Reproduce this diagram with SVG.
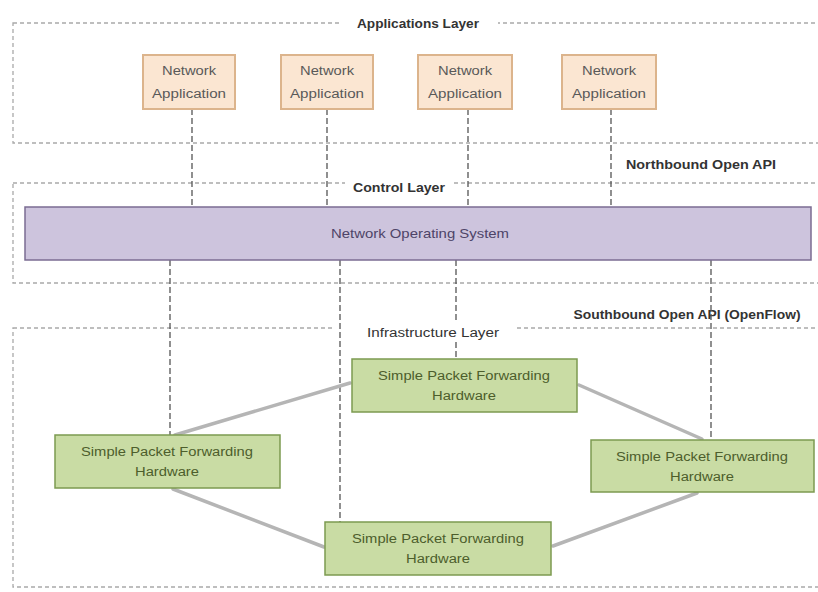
<svg xmlns="http://www.w3.org/2000/svg" width="818" height="592" viewBox="0 0 818 592">
  <style>
    .layer { fill: none; stroke: #a9a9a9; stroke-width: 1.3; stroke-dasharray: 4 3; }
    .gap { fill: #ffffff; stroke: none; }
    .ltitle { font-family: "Liberation Sans", Arial, sans-serif; font-size: 12px; font-weight: bold; fill: #333333; text-anchor: middle; }
    .lname { font-family: "Liberation Sans", Arial, sans-serif; font-size: 12px; fill: #333333; text-anchor: middle; }
    .app rect { fill: #fbe6d2; stroke: #dcb48c; stroke-width: 2; }
    .app text { font-family: "Liberation Sans", Arial, sans-serif; font-size: 12.5px; fill: #595959; text-anchor: middle; }
    .nos rect { fill: #cdc4dd; stroke: #7b6c92; stroke-width: 1.5; }
    .nos text { font-family: "Liberation Sans", Arial, sans-serif; font-size: 13px; fill: #4e4468; text-anchor: middle; }
    .sw rect { fill: #c9dca4; stroke: #7c9a50; stroke-width: 1.5; }
    .sw text { font-family: "Liberation Sans", Arial, sans-serif; font-size: 12.5px; fill: #4d5e2c; text-anchor: middle; }
    .api { stroke: #555555; stroke-width: 1.3; stroke-dasharray: 6 3; fill: none; }
    .link { stroke: #b5b5b5; stroke-width: 3.5; fill: none; stroke-linecap: round; }
  </style>

  <rect width="818" height="592" fill="#ffffff"/>

  <!-- layer frames -->
  <g id="applications-layer">
    <rect class="layer" x="13" y="23" width="830" height="120"/>
    <rect class="gap" x="340" y="14" width="158" height="20"/>
    <text class="ltitle" x="418" y="28" textLength="122" lengthAdjust="spacingAndGlyphs">Applications Layer</text>
  </g>
  <g id="control-layer">
    <rect class="layer" x="13" y="183" width="830" height="100"/>
    <rect class="gap" x="345" y="175" width="108" height="18"/>
    <text class="ltitle" x="399" y="192" textLength="92" lengthAdjust="spacingAndGlyphs">Control Layer</text>
  </g>
  <g id="infrastructure-layer">
    <rect class="layer" x="13" y="328" width="830" height="259"/>
    <rect class="gap" x="334" y="320" width="181" height="18"/>
    <text class="lname" x="433" y="337" textLength="132" lengthAdjust="spacingAndGlyphs">Infrastructure Layer</text>
  </g>

  <!-- interface labels -->
  <text class="ltitle" x="701" y="169" textLength="150" lengthAdjust="spacingAndGlyphs">Northbound Open API</text>
  <text class="ltitle" x="687" y="319" textLength="227" lengthAdjust="spacingAndGlyphs">Southbound Open API (OpenFlow)</text>

  <!-- connectors -->
  <g id="connectors">
    <!-- northbound: applications to NOS -->
    <line class="api" x1="192" y1="109" x2="192" y2="214"/>
    <line class="api" x1="327" y1="109" x2="327" y2="214"/>
    <line class="api" x1="468" y1="109" x2="468" y2="214"/>
    <line class="api" x1="611" y1="109" x2="611" y2="214"/>
    <!-- southbound: NOS to forwarding hardware -->
    <line class="api" x1="170" y1="260" x2="170" y2="435"/>
    <line class="api" x1="340" y1="260" x2="340" y2="522"/>
    <line class="api" x1="456" y1="260" x2="456" y2="323"/>
    <line class="api" x1="456" y1="342" x2="456" y2="359"/>
    <line class="api" x1="711" y1="260" x2="711" y2="440"/>
    <!-- data-plane links -->
    <line class="link" x1="350" y1="383" x2="175" y2="435"/>
    <line class="link" x1="579" y1="385" x2="702" y2="439"/>
    <line class="link" x1="173" y1="489" x2="324" y2="547"/>
    <line class="link" x1="697" y1="493" x2="553" y2="546"/>
  </g>

  <!-- application nodes -->
  <g id="app1" class="app">
    <rect x="143" y="55" width="92" height="54"/>
    <text x="189" y="75" textLength="54" lengthAdjust="spacingAndGlyphs">Network</text>
    <text x="189" y="98" textLength="74" lengthAdjust="spacingAndGlyphs">Application</text>
  </g>
  <g id="app2" class="app">
    <rect x="281" y="55" width="92" height="54"/>
    <text x="327" y="75" textLength="54" lengthAdjust="spacingAndGlyphs">Network</text>
    <text x="327" y="98" textLength="74" lengthAdjust="spacingAndGlyphs">Application</text>
  </g>
  <g id="app3" class="app">
    <rect x="418" y="55" width="94" height="54"/>
    <text x="465" y="75" textLength="54" lengthAdjust="spacingAndGlyphs">Network</text>
    <text x="465" y="98" textLength="74" lengthAdjust="spacingAndGlyphs">Application</text>
  </g>
  <g id="app4" class="app">
    <rect x="562" y="55" width="94" height="54"/>
    <text x="609" y="75" textLength="54" lengthAdjust="spacingAndGlyphs">Network</text>
    <text x="609" y="98" textLength="74" lengthAdjust="spacingAndGlyphs">Application</text>
  </g>

  <!-- control plane -->
  <g id="nos" class="nos">
    <rect x="25" y="207" width="786" height="53"/>
    <text x="420" y="238" textLength="178" lengthAdjust="spacingAndGlyphs">Network Operating System</text>
  </g>

  <!-- forwarding hardware -->
  <g id="switch-top" class="sw">
    <rect x="352" y="359" width="225" height="53"/>
    <text x="464" y="380" textLength="172" lengthAdjust="spacingAndGlyphs">Simple Packet Forwarding</text>
    <text x="464" y="400" textLength="64" lengthAdjust="spacingAndGlyphs">Hardware</text>
  </g>
  <g id="switch-left" class="sw">
    <rect x="55" y="435" width="225" height="53"/>
    <text x="167" y="456" textLength="172" lengthAdjust="spacingAndGlyphs">Simple Packet Forwarding</text>
    <text x="167" y="476" textLength="64" lengthAdjust="spacingAndGlyphs">Hardware</text>
  </g>
  <g id="switch-right" class="sw">
    <rect x="591" y="440" width="223" height="52"/>
    <text x="702" y="461" textLength="172" lengthAdjust="spacingAndGlyphs">Simple Packet Forwarding</text>
    <text x="702" y="481" textLength="64" lengthAdjust="spacingAndGlyphs">Hardware</text>
  </g>
  <g id="switch-bottom" class="sw">
    <rect x="325" y="522" width="226" height="53"/>
    <text x="438" y="543" textLength="172" lengthAdjust="spacingAndGlyphs">Simple Packet Forwarding</text>
    <text x="438" y="563" textLength="64" lengthAdjust="spacingAndGlyphs">Hardware</text>
  </g>
</svg>
